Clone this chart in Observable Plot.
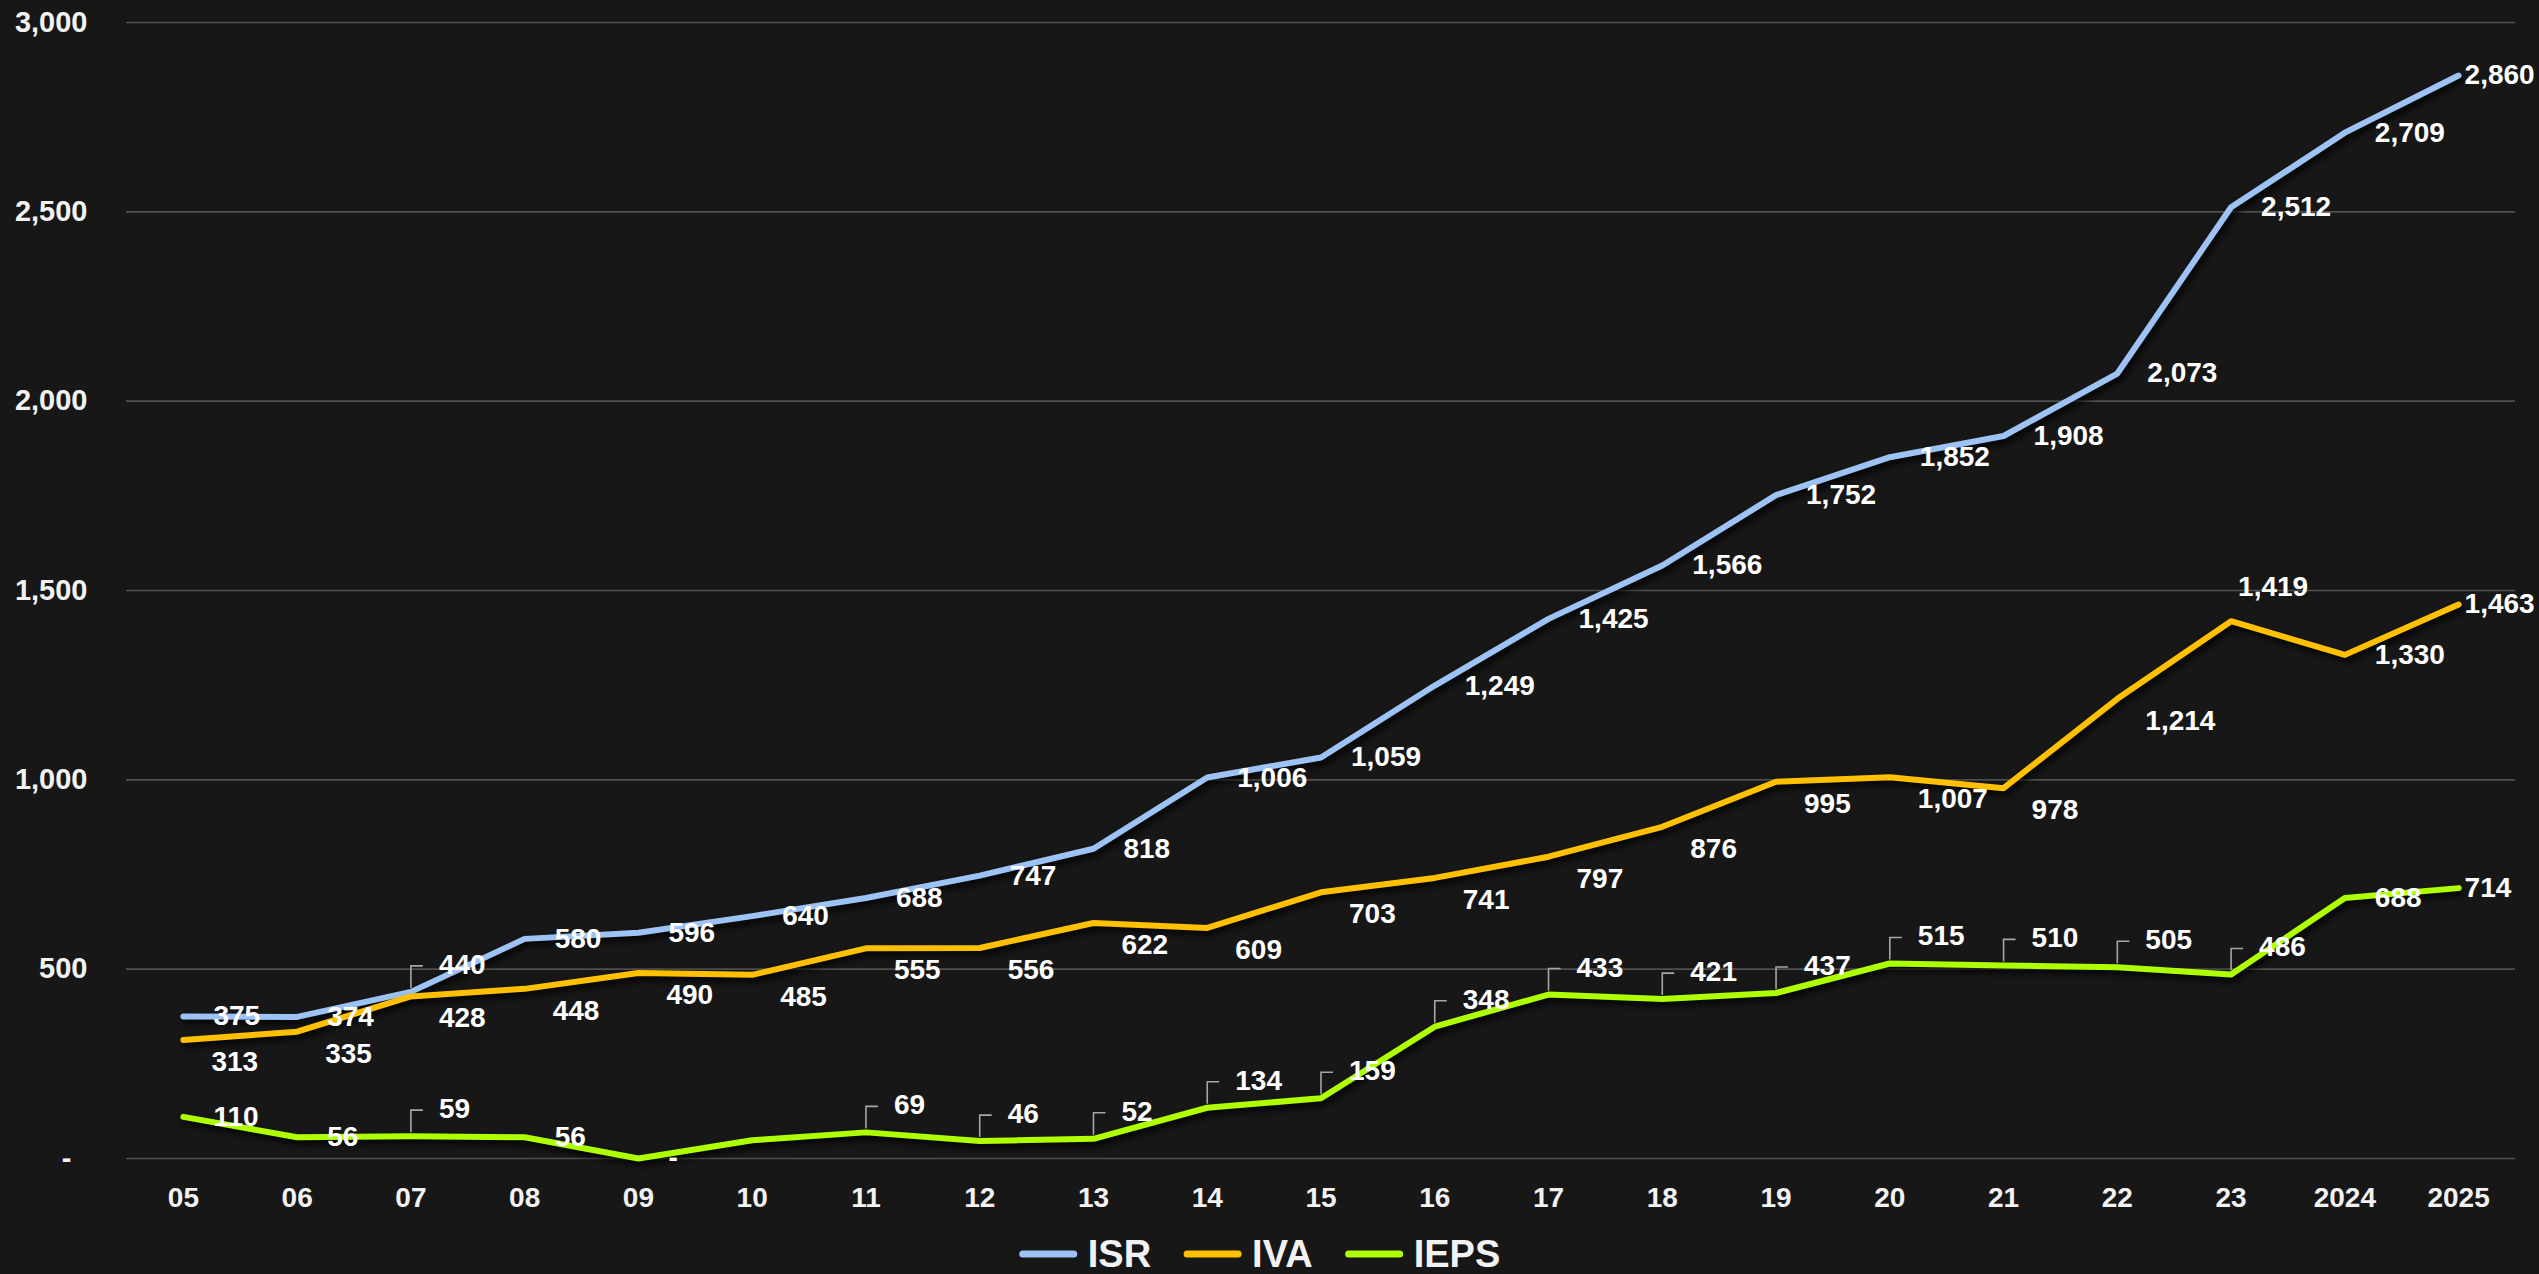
<!DOCTYPE html>
<html>
<head>
<meta charset="utf-8">
<script src="https://cdn.jsdelivr.net/npm/d3@7"></script>
<script src="https://cdn.jsdelivr.net/npm/@observablehq/plot@0.6"></script>
<style>
  html, body { margin: 0; padding: 0; background: #171717; overflow: hidden; }
  #chart svg g[aria-label="line"] path { filter: drop-shadow(3px 4px 3px rgba(0,0,0,0.9)); }
  #legend { display: block; }
</style>
</head>
<body>
<div id="chart"></div>
<svg id="legend" width="2539" height="49"></svg>
<script>
// ---- data ----
const years = ["05","06","07","08","09","10","11","12","13","14","15","16","17","18","19","20","21","22","23","2024","2025"];
const isr  = [375, 374, 440, 580, 596, 640, 688, 747, 818, 1006, 1059, 1249, 1425, 1566, 1752, 1852, 1908, 2073, 2512, 2709, 2860];
const iva  = [313, 335, 428, 448, 490, 485, 555, 556, 622, 609, 703, 741, 797, 876, 995, 1007, 978, 1214, 1419, 1330, 1463];
const ieps = [110, 56, 59, 56, 0, 48, 69, 46, 52, 134, 159, 348, 433, 421, 437, 515, 510, 505, 486, 688, 714];
const seriesNames  = ["ISR", "IVA", "IEPS"];
const yTicks = [0, 500, 1000, 1500, 2000, 2500, 3000];

// ---- styling (kept apart from the data) ----
const seriesColors = ["#9dc3f5", "#ffc000", "#aeff00"];
const isrLabelPos  = ["right","right","above","right","right","right","right","right","right","right","right","right","right","right","right","right","right","right","right","right","end"];
const ivaLabelPos  = ["below","below","below","below","below","below","below","below","below","below","below","below","below","below","below","below","below","below","top","right","end"];
const iepsLabelPos = ["right","right","above","right","right",null,"above","above","above","above","above","above","above","above","above","above","above","above","above","right","end"];

const seriesValues = [isr, iva, ieps];
const seriesPos = [isrLabelPos, ivaLabelPos, iepsLabelPos];
const rows = [];
seriesNames.forEach((name, s) => {
  years.forEach((yr, i) => {
    rows.push({year: yr, value: seriesValues[s][i], serie: name, pos: seriesPos[s][i]});
  });
});

const fmt = d => d === 0 ? "-" : d3.format(",")(d);
const yFmt = d => d === 0 ? "-\u00a0\u00a0" : d3.format(",")(d);

const placements = {
  right: {dx: 30, dy: 0},
  above: {dx: 28, dy: -27},
  below: {dx: 28, dy: 22},
  top:   {dx: 7,  dy: -34},
  end:   {dx: 6,  dy: 0}
};

// leader line glyph: up from the point, then a short tick to the right
const leaderSymbol = {
  draw(ctx) { ctx.moveTo(0, -4); ctx.lineTo(0, -26); ctx.lineTo(12, -26); }
};

const labelMarks = Object.entries(placements).map(([key, p]) =>
  Plot.text(rows.filter(r => r.pos === key), {
    x: "year", y: "value", text: d => fmt(d.value),
    textAnchor: "start", dx: p.dx, dy: p.dy,
    fill: "#ffffff", fontSize: 28, fontWeight: "bold"
  })
);

const chart = Plot.plot({
  width: 2539,
  height: 1225,
  marginLeft: 126,
  marginRight: 24,
  marginTop: 22,
  marginBottom: 67,
  style: {
    background: "#171717",
    color: "#f2f2f2",
    fontFamily: "'Liberation Sans', Arial, sans-serif",
    fontWeight: "bold",
    overflow: "visible"
  },
  x: {type: "point", domain: years, padding: 0.5, round: false, label: null},
  y: {domain: [0, 3000], label: null},
  color: {domain: seriesNames, range: seriesColors},
  marks: [
    Plot.gridY(yTicks, {stroke: "#4f4f4f", strokeOpacity: 1, strokeWidth: 1.6}),
    Plot.axisY(yTicks, {tickSize: 0, tickPadding: 39, tickFormat: yFmt, fontSize: 29, fontWeight: "bold", label: null}),
    Plot.axisX({tickSize: 0, tickPadding: 29, fontSize: 28, fontWeight: "bold", label: null}),
    Plot.line(rows, {x: "year", y: "value", z: "serie", stroke: "serie", strokeWidth: 6,
      strokeLinecap: "round", strokeLinejoin: "round"}),
    Plot.dot(rows.filter(r => r.pos === "above"), {x: "year", y: "value", symbol: leaderSymbol, r: 5,
      fill: "none", stroke: "#a6a6a6", strokeWidth: 1.6}),
    ...labelMarks
  ]
});
document.getElementById("chart").appendChild(chart);

// ---- legend (below the plot) ----
const lg = d3.select("#legend");
const items = seriesNames.map((name, i) => {
  const g = lg.append("g");
  g.append("line").attr("x1", 0).attr("x2", 51).attr("y1", 29).attr("y2", 29)
    .attr("stroke", seriesColors[i]).attr("stroke-width", 7).attr("stroke-linecap", "round");
  const t = g.append("text").attr("x", 65).attr("y", 42).text(name)
    .attr("fill", "#f2f2f2").attr("font-size", 38).attr("font-weight", "bold")
    .attr("font-family", "'Liberation Sans', Arial, sans-serif");
  return {g, w: 65 + t.node().getComputedTextLength()};
});
const gap = 36;
const total = items.reduce((a, it) => a + it.w, 0) + gap * (items.length - 1);
let x0 = 2539 / 2 - 8 - total / 2;
items.forEach(it => { it.g.attr("transform", `translate(${x0},0)`); x0 += it.w + gap; });
</script>
</body>
</html>
